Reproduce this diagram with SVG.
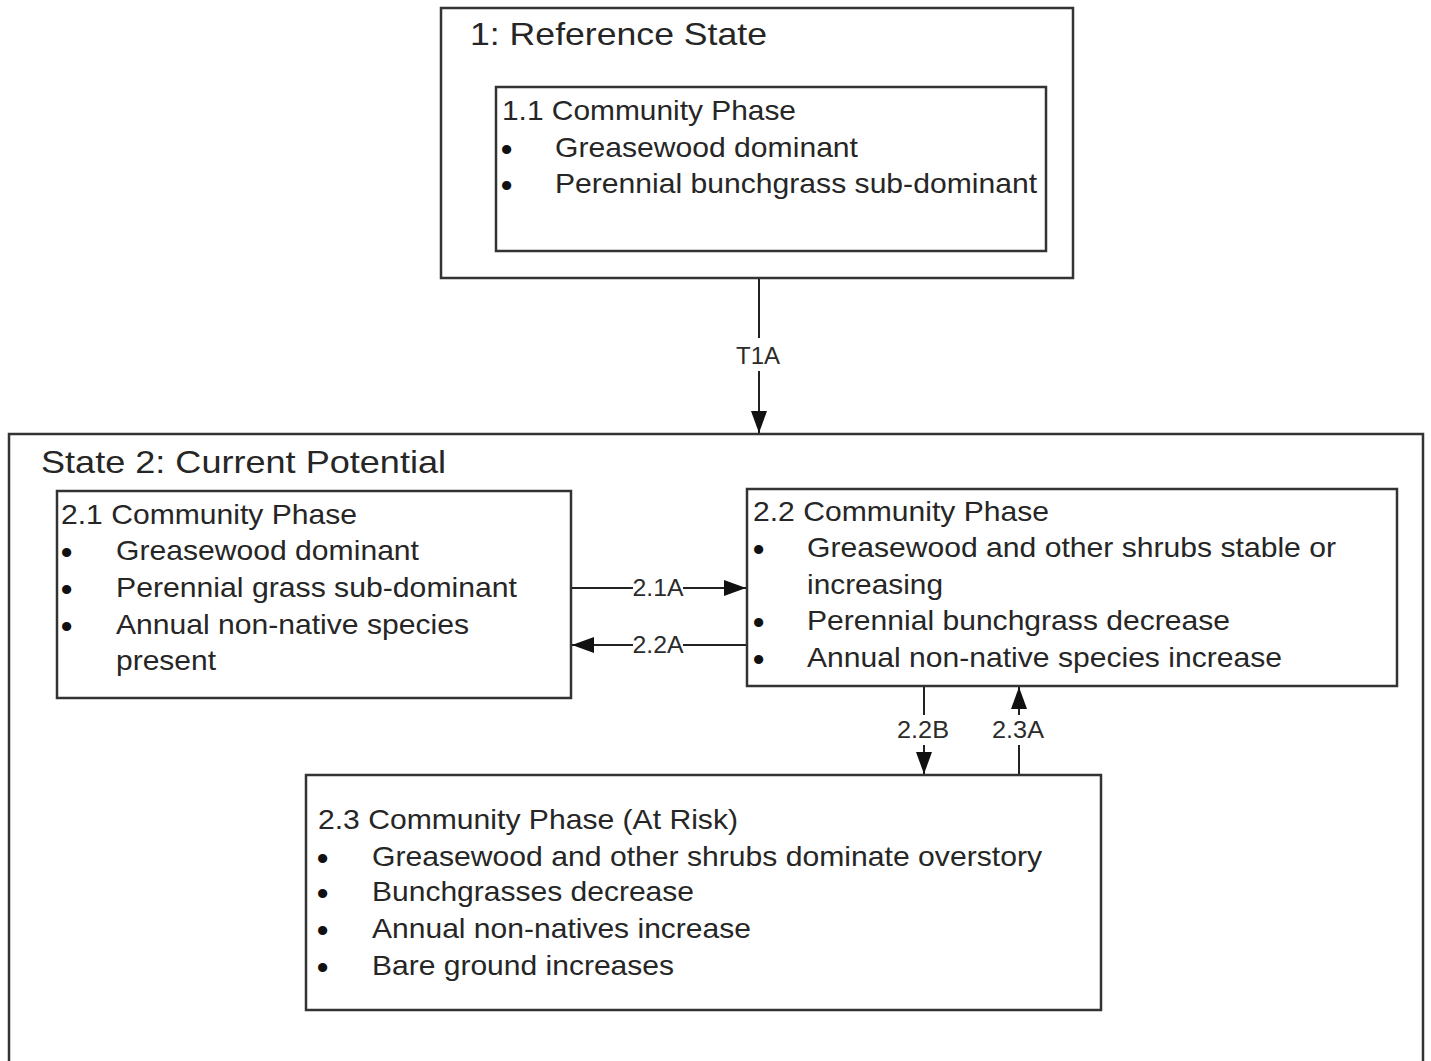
<svg xmlns="http://www.w3.org/2000/svg" width="1431" height="1061" viewBox="0 0 1431 1061">
<defs>
<style>
.box{fill:none;stroke:#333;stroke-width:2.5}
.t{font-family:"Liberation Sans",Arial,sans-serif;fill:#262626;font-size:28px}
.h{font-size:32px}
.b{font-family:"Liberation Sans",Arial,sans-serif;fill:#111;font-size:32px;font-weight:bold}
.lb{font-family:"Liberation Sans",Arial,sans-serif;fill:#2b2b2b;font-size:24px;text-anchor:middle}
.ln{stroke:#222;stroke-width:2;fill:none}
.bg{fill:#fff}
</style>
<marker id="ah" viewBox="0 0 22 16" refX="22" refY="8" markerWidth="22" markerHeight="16" markerUnits="userSpaceOnUse" orient="auto">
<path d="M0,0 L22,8 L0,16 Z" fill="#111"/>
</marker>
</defs>
<rect width="1431" height="1061" fill="#fff"/>
<g id="state1">
<rect class="box" x="441" y="8" width="632" height="270"/>
<text class="t h" x="470" y="45" textLength="297" lengthAdjust="spacingAndGlyphs">1: Reference State</text>
</g>
<g id="phase11">
<rect class="box" x="496" y="87" width="550" height="164"/>
<text class="t" x="502" y="120" textLength="294" lengthAdjust="spacingAndGlyphs">1.1 Community Phase</text>
<text class="b" x="501" y="160">•</text>
<text class="t" x="555" y="157" textLength="303" lengthAdjust="spacingAndGlyphs">Greasewood dominant</text>
<text class="b" x="501" y="196">•</text>
<text class="t" x="555" y="193" textLength="482" lengthAdjust="spacingAndGlyphs">Perennial bunchgrass sub-dominant</text>
</g>
<g id="state2">
<path class="box" d="M9,1065 L9,434 L1423,434 L1423,1065"/>
<text class="t h" x="41" y="473" textLength="405" lengthAdjust="spacingAndGlyphs">State 2: Current Potential</text>
</g>
<g id="phase21">
<rect class="box" x="57" y="491" width="514" height="207"/>
<text class="t" x="61" y="524" textLength="296" lengthAdjust="spacingAndGlyphs">2.1 Community Phase</text>
<text class="b" x="61" y="563">•</text>
<text class="t" x="116" y="560" textLength="303" lengthAdjust="spacingAndGlyphs">Greasewood dominant</text>
<text class="b" x="61" y="600">•</text>
<text class="t" x="116" y="597" textLength="401" lengthAdjust="spacingAndGlyphs">Perennial grass sub-dominant</text>
<text class="b" x="61" y="637">•</text>
<text class="t" x="116" y="634" textLength="353" lengthAdjust="spacingAndGlyphs">Annual non-native species</text>
<text class="t" x="116" y="670" textLength="100" lengthAdjust="spacingAndGlyphs">present</text>
</g>
<g id="phase22">
<rect class="box" x="747" y="489" width="650" height="197"/>
<text class="t" x="753" y="521" textLength="296" lengthAdjust="spacingAndGlyphs">2.2 Community Phase</text>
<text class="b" x="753" y="560">•</text>
<text class="t" x="807" y="557" textLength="529" lengthAdjust="spacingAndGlyphs">Greasewood and other shrubs stable or</text>
<text class="t" x="807" y="594" textLength="136" lengthAdjust="spacingAndGlyphs">increasing</text>
<text class="b" x="753" y="633">•</text>
<text class="t" x="807" y="630" textLength="423" lengthAdjust="spacingAndGlyphs">Perennial bunchgrass decrease</text>
<text class="b" x="753" y="670">•</text>
<text class="t" x="807" y="667" textLength="475" lengthAdjust="spacingAndGlyphs">Annual non-native species increase</text>
</g>
<g id="phase23">
<rect class="box" x="306" y="775" width="795" height="235"/>
<text class="t" x="318" y="829" textLength="420" lengthAdjust="spacingAndGlyphs">2.3 Community Phase (At Risk)</text>
<text class="b" x="317" y="869">•</text>
<text class="t" x="372" y="866" textLength="670" lengthAdjust="spacingAndGlyphs">Greasewood and other shrubs dominate overstory</text>
<text class="b" x="317" y="904">•</text>
<text class="t" x="372" y="901" textLength="322" lengthAdjust="spacingAndGlyphs">Bunchgrasses decrease</text>
<text class="b" x="317" y="941">•</text>
<text class="t" x="372" y="938" textLength="379" lengthAdjust="spacingAndGlyphs">Annual non-natives increase</text>
<text class="b" x="317" y="978">•</text>
<text class="t" x="372" y="975" textLength="302" lengthAdjust="spacingAndGlyphs">Bare ground increases</text>
</g>
<g id="connectors">
<line class="ln" x1="759" y1="279" x2="759" y2="433" marker-end="url(#ah)"/>
<rect class="bg" x="733" y="338" width="52" height="33"/>
<text class="lb" x="758" y="364" textLength="44" lengthAdjust="spacingAndGlyphs">T1A</text>
<line class="ln" x1="572" y1="588" x2="746" y2="588" marker-end="url(#ah)"/>
<rect class="bg" x="633" y="576" width="50" height="24"/>
<text class="lb" x="658" y="596" textLength="51" lengthAdjust="spacingAndGlyphs">2.1A</text>
<line class="ln" x1="746" y1="645" x2="572" y2="645" marker-end="url(#ah)"/>
<rect class="bg" x="633" y="633" width="50" height="24"/>
<text class="lb" x="658" y="653" textLength="51" lengthAdjust="spacingAndGlyphs">2.2A</text>
<line class="ln" x1="924" y1="687" x2="924" y2="774" marker-end="url(#ah)"/>
<rect class="bg" x="896" y="715" width="56" height="30"/>
<text class="lb" x="923" y="738" textLength="52" lengthAdjust="spacingAndGlyphs">2.2B</text>
<line class="ln" x1="1019" y1="774" x2="1019" y2="687" marker-end="url(#ah)"/>
<rect class="bg" x="991" y="715" width="56" height="30"/>
<text class="lb" x="1018" y="738" textLength="52" lengthAdjust="spacingAndGlyphs">2.3A</text>
</g>
</svg>
